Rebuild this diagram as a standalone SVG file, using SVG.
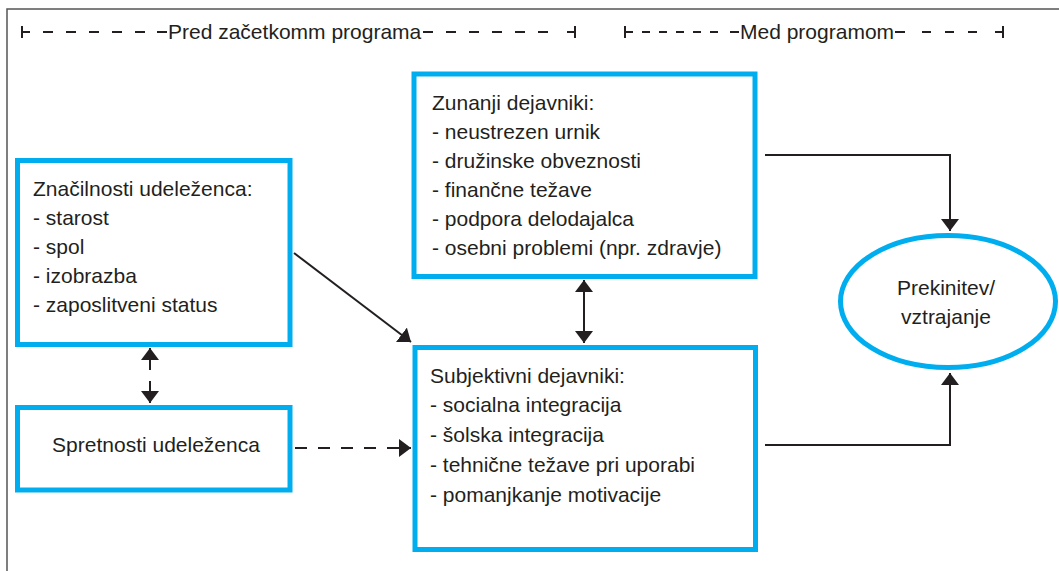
<svg xmlns="http://www.w3.org/2000/svg" width="1059" height="571" viewBox="0 0 1059 571">
<style>
.box{fill:#fff;stroke:#00aeef;stroke-width:5}
.t{font-family:"Liberation Sans",Arial,sans-serif;font-size:21px;fill:#231f20}
.c{fill:none;stroke:#231f20;stroke-width:2}
.hd{fill:none;stroke:#231f20;stroke-width:2}
</style>
<defs>
<marker id="ah" viewBox="0 0 12 18" refX="12" refY="9" markerWidth="12" markerHeight="18" markerUnits="userSpaceOnUse" orient="auto-start-reverse">
<path d="M0,0 L12,9 L0,18 z" fill="#231f20"/>
</marker>
</defs>
<rect x="0" y="0" width="1059" height="571" fill="#fff"/>
<rect x="7" y="9" width="1100" height="600" fill="none" stroke="#555" stroke-width="1.5"/>
<g id="header">
<path class="hd" d="M22,26 V38 M22,32 H30 M43,32 H53 M66,32 H76 M89,32 H99 M112,32 H122 M135,32 H145 M157,32 H167"/>
<text class="t" x="168" y="39">Pred začetkomm programa</text>
<path class="hd" d="M423,32 H433 M446,32 H456 M469,32 H479 M492,32 H502 M515,32 H525 M538,32 H548 M567,32 H575 M575,26 V38"/>
<path class="hd" d="M625,26 V38 M625,32 H633 M642,32 H650 M659,32 H667 M676,32 H684 M693,32 H701 M710,32 H718 M730,32 H739"/>
<text class="t" x="740" y="39">Med programom</text>
<path class="hd" d="M895,32 H905 M922,32 H931 M945,32 H954 M968,32 H977 M995,32 H1003 M1003,26 V38"/>
</g>
<g id="connectors">
<path class="c" d="M294,253 L411,342" marker-end="url(#ah)"/>
<path class="c" d="M150,370 V348" marker-end="url(#ah)"/>
<path class="c" d="M150,381 V403" marker-end="url(#ah)"/>
<path class="c" d="M584,280 V343" marker-start="url(#ah)" marker-end="url(#ah)"/>
<path class="c" d="M295,448 H411" stroke-dasharray="12 11" marker-end="url(#ah)"/>
<path class="c" d="M765,155 H950 V231" marker-end="url(#ah)"/>
<path class="c" d="M765,445 H950 V373" marker-end="url(#ah)"/>
</g>
<g id="znacilnosti">
<rect class="box" x="17.5" y="160.5" width="272.5" height="184"/>
<text class="t" x="33" y="196">Značilnosti udeleženca:</text>
<text class="t" x="33" y="225">- starost</text>
<text class="t" x="33" y="254">- spol</text>
<text class="t" x="33" y="283">- izobrazba</text>
<text class="t" x="33" y="312">- zaposlitveni status</text>
</g>
<g id="spretnosti">
<rect class="box" x="17.5" y="407.5" width="272.5" height="82.5"/>
<text class="t" x="156" y="452" text-anchor="middle">Spretnosti udeleženca</text>
</g>
<g id="zunanji">
<rect class="box" x="414" y="74" width="341" height="202.5"/>
<text class="t" x="432" y="110">Zunanji dejavniki:</text>
<text class="t" x="432" y="139">- neustrezen urnik</text>
<text class="t" x="432" y="168">- družinske obveznosti</text>
<text class="t" x="432" y="197">- finančne težave</text>
<text class="t" x="432" y="226">- podpora delodajalca</text>
<text class="t" x="432" y="255">- osebni problemi (npr. zdravje)</text>
</g>
<g id="subjektivni">
<rect class="box" x="415" y="347.5" width="340.5" height="202"/>
<text class="t" x="430" y="383">Subjektivni dejavniki:</text>
<text class="t" x="430" y="412">- socialna integracija</text>
<text class="t" x="430" y="442">- šolska integracija</text>
<text class="t" x="430" y="472">- tehnične težave pri uporabi</text>
<text class="t" x="430" y="502">- pomanjkanje motivacije</text>
</g>
<g id="izid">
<ellipse cx="948" cy="301.5" rx="107.5" ry="66" fill="#fff" stroke="#00aeef" stroke-width="5"/>
<text class="t" x="946" y="295" text-anchor="middle">Prekinitev/</text>
<text class="t" x="946" y="324" text-anchor="middle">vztrajanje</text>
</g>
</svg>
